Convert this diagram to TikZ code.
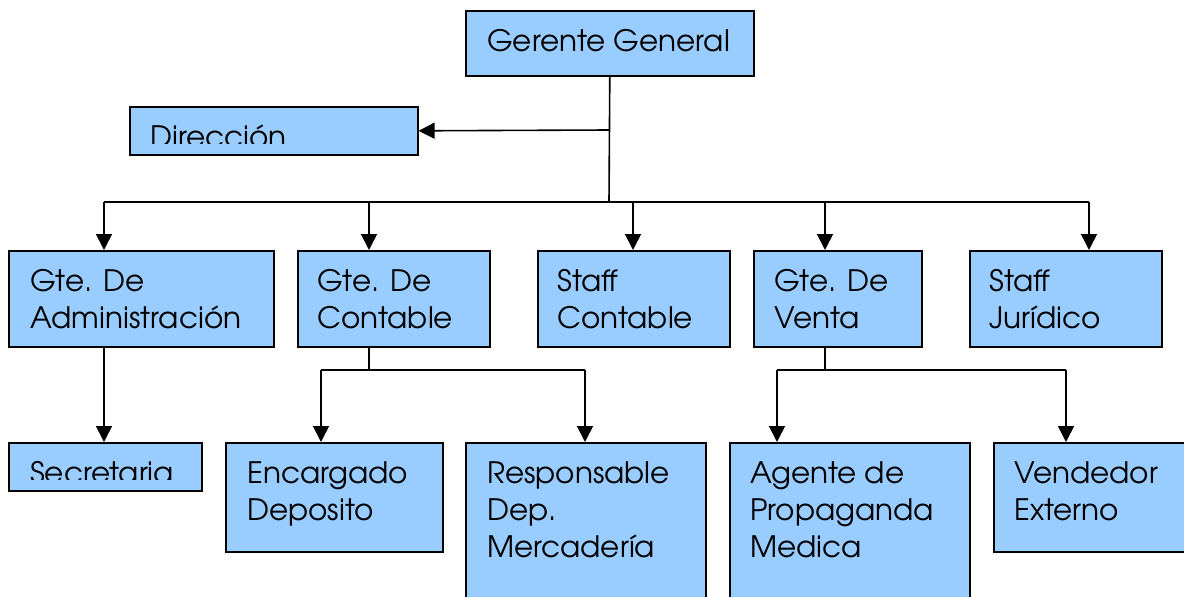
\documentclass[tikz,border=0pt]{standalone}
\usepackage{fontspec}
\setmainfont{TeX Gyre Adventor}
\usetikzlibrary{arrows.meta}
\definecolor{boxblue}{HTML}{99CCFF}
\tikzset{
  box/.style={draw=black, line width=1.6pt, fill=boxblue, rectangle, inner sep=0pt, anchor=north west},
  txt/.style={inner sep=0pt, anchor=north west, align=left, font=\fontsize{29.5}{37}\selectfont},
  conn/.style={draw=black, line width=1.6pt},
  arr/.style={conn, -{Triangle[length=16pt,width=16pt]}}
}
\newcommand{\fs}{\rule{0pt}{30pt}}
\begin{document}
\begin{tikzpicture}[x=1pt,y=-1pt]
\clip (0,0) rectangle (1184,597);
\fill[white] (0,0) rectangle (1184,597);
% boxes
\node[box, minimum width=288pt, minimum height=65pt] (gg) at (465,10) {};
\node[box, minimum width=288pt, minimum height=48pt] (dir) at (129,106) {};
\node[box, minimum width=265pt, minimum height=96pt] (adm) at (8,250) {};
\node[box, minimum width=192pt, minimum height=96pt] (con) at (297,250) {};
\node[box, minimum width=192pt, minimum height=96pt] (stc) at (537,250) {};
\node[box, minimum width=168pt, minimum height=96pt] (ven) at (753,250) {};
\node[box, minimum width=192pt, minimum height=96pt] (stj) at (969,250) {};
\node[box, minimum width=193pt, minimum height=48pt] (sec) at (8,442) {};
\node[box, minimum width=217pt, minimum height=109pt] (enc) at (225,442) {};
\node[box, minimum width=240pt, minimum height=180pt] (res) at (465,442) {};
\node[box, minimum width=240pt, minimum height=180pt] (age) at (729,442) {};
\node[box, minimum width=220pt, minimum height=109pt] (vde) at (993,442) {};
% texts
\node[txt] (ggt) at ([xshift=22pt,yshift=-11pt]gg.north west) {\fs Gerente General};
\begin{scope}
  \clip (130,107) rectangle (416,143);
  \node[txt] (dirt) at ([xshift=21pt,yshift=-11pt]dir.north west) {\fs Dirección};
\end{scope}
\node[txt] (admt) at ([xshift=22pt,yshift=-11pt]adm.north west) {\fs Gte. De\\Administración};
\node[txt] (cont) at ([xshift=20pt,yshift=-11pt]con.north west) {\fs Gte. De\\Contable};
\node[txt] (stct) at ([xshift=20pt,yshift=-11pt]stc.north west) {\fs Staff\\Contable};
\node[txt] (vent) at ([xshift=21pt,yshift=-11pt]ven.north west) {\fs Gte. De\\Venta};
\node[txt] (stjt) at ([xshift=20pt,yshift=-11pt]stj.north west) {\fs Staff\\Jurídico};
\begin{scope}
  \clip (9,443) rectangle (200,479);
  \node[txt] (sect) at ([xshift=22pt,yshift=-11pt]sec.north west) {\fs Secretaria};
\end{scope}
\node[txt] (enct) at ([xshift=22pt,yshift=-11pt]enc.north west) {\fs Encargado\\Deposito};
\node[txt] (rest) at ([xshift=22pt,yshift=-11pt]res.north west) {\fs Responsable\\Dep.\\Mercadería};
\node[txt] (aget) at ([xshift=21pt,yshift=-11pt]age.north west) {\fs Agente de\\Propaganda\\Medica};
\node[txt] (vdet) at ([xshift=21pt,yshift=-11pt]vde.north west) {\fs Vendedor\\Externo};
% connectors
\coordinate (jd) at (609,130);
\coordinate (j0) at (609,202);
\coordinate (h1) at (104,202);
\coordinate (h2) at (369,202);
\coordinate (h3) at (633,202);
\coordinate (h4) at (825,202);
\coordinate (h5) at (1089,202);
\draw[conn] (gg.south) -- (j0);
\draw[arr] (jd) -- (dir.east);
\draw[conn] (h1) -- (h5);
\draw[arr] (h1) -- (h1 |- adm.north);
\draw[arr] (h2) -- (h2 |- con.north);
\draw[arr] (h3) -- (h3 |- stc.north);
\draw[arr] (h4) -- (h4 |- ven.north);
\draw[arr] (h5) -- (h5 |- stj.north);
% admin -> secretaria
\draw[arr] (h1 |- adm.south) -- (h1 |- sec.north);
% contable
\coordinate (c0) at (369,370);
\coordinate (c1) at (321,370);
\coordinate (c2) at (585,370);
\draw[conn] (h2 |- con.south) -- (c0);
\draw[conn] (c1) -- (c2);
\draw[arr] (c1) -- (c1 |- enc.north);
\draw[arr] (c2) -- (c2 |- res.north);
% venta
\coordinate (v0) at (825,370);
\coordinate (v1) at (777,370);
\coordinate (v2) at (1066,370);
\draw[conn] (h4 |- ven.south) -- (v0);
\draw[conn] (v1) -- (v2);
\draw[arr] (v1) -- (v1 |- age.north);
\draw[arr] (v2) -- (v2 |- vde.north);
\end{tikzpicture}
\end{document}
